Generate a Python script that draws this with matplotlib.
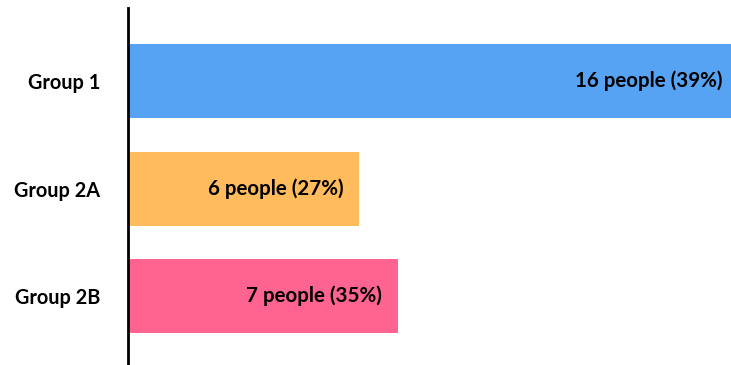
import matplotlib.pyplot as plt

groups = ["Group 1", "Group 2A", "Group 2B"]
people = [16, 6, 7]
pcts = [39, 27, 35]
colors = ["#56A3F3", "#FFBB5C", "#FF638F"]

plt.rcParams['font.family'] = ['Lato', 'DejaVu Sans']

fig = plt.figure(figsize=(7.31, 3.65), dpi=100)
ax = fig.add_axes([128 / 731, 0, 1 - 128 / 731, 1 - 8 / 365])

ypos = range(len(groups))
ax.barh(ypos, people, height=0.69, color=colors)

xmax = 15.66
ax.set_xlim(0, xmax)
ax.set_ylim(2.64, -0.68)

for y, n, p in zip(ypos, people, pcts):
    off = -6 if n > xmax else -11
    ax.annotate(f"{n} people ({p}%)", xy=(min(n, xmax), y), xytext=(off, 0),
                textcoords="offset points", ha="right", va="center",
                fontsize=14.8, fontweight="bold", color="black")

ax.set_yticks(list(ypos))
ax.set_yticklabels(groups, fontsize=14.3, fontweight="bold")
ax.tick_params(axis="y", length=0, pad=20)
ax.set_xticks([])
for s in ["top", "right", "bottom"]:
    ax.spines[s].set_visible(False)
ax.spines["left"].set_linewidth(2)

fig.savefig("out.png", dpi=100)
